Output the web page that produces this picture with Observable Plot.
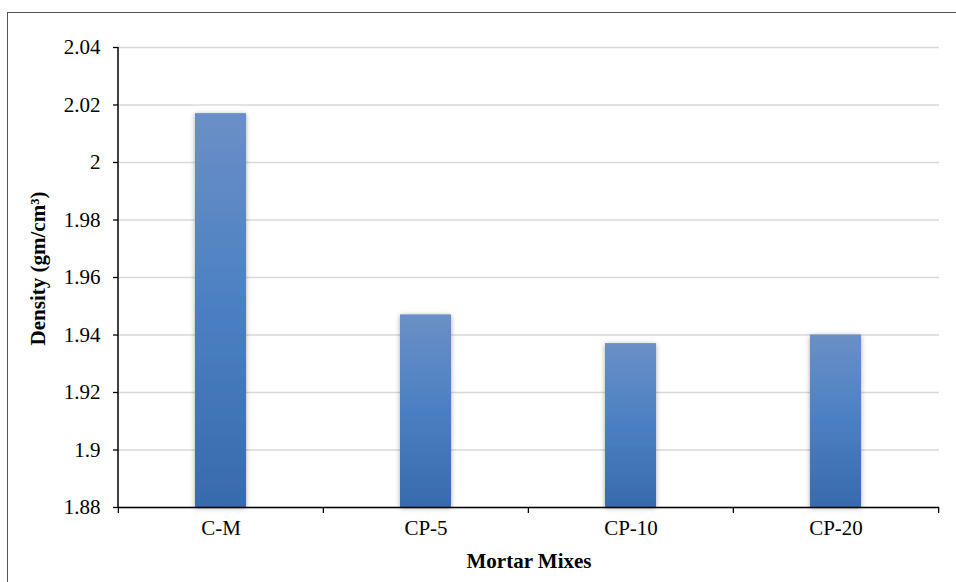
<!DOCTYPE html>
<html>
<head>
<meta charset="utf-8">
<script src="https://cdn.jsdelivr.net/npm/d3@7"></script>
<script src="https://cdn.jsdelivr.net/npm/@observablehq/plot@0.6"></script>
<style>
  html, body { margin: 0; padding: 0; background: #fff; overflow: hidden; }
  #wrap { position: relative; width: 956px; height: 582px; }
  #frame { position: absolute; left: 7px; top: 12px; width: 970px; height: 600px; border: 1.5px solid #555; box-sizing: border-box; pointer-events: none; }
  #chart { position: absolute; left: 0; top: 0; }
  #chart svg, #chart svg text { font-family: "Liberation Serif", "Times New Roman", serif !important; font-size: 21px !important; fill: #000; }
  #chart svg text.bold, #chart svg .bold text { font-weight: bold; }
</style>
</head>
<body>
<div id="wrap"><div id="chart"></div><div id="frame"></div></div>
<script>
const categories = ["C-M", "CP-5", "CP-10", "CP-20"];
const densities = [2.017, 1.947, 1.937, 1.940];
const yTicks = [1.88, 1.9, 1.92, 1.94, 1.96, 1.98, 2, 2.02, 2.04];
const yTickLabels = ["1.88", "1.9", "1.92", "1.94", "1.96", "1.98", "2", "2.02", "2.04"];

const data = categories.map((c, i) => ({category: c, density: densities[i]}));

const W = 956, H = 582, mL = 118, mR = 17, mT = 47, mB = 75;
const step = (W - mL - mR) / categories.length;

const chart = Plot.plot({
  width: W,
  height: H,
  marginLeft: mL,
  marginRight: mR,
  marginTop: mT,
  marginBottom: mB,
  style: {background: "transparent"},
  x: {domain: categories, paddingInner: 0.75, paddingOuter: 0.375, label: null},
  y: {domain: [1.88, 2.04], label: null},
  marks: [
    Plot.gridY(yTicks, {stroke: "#d9d9d9", strokeOpacity: 1, strokeWidth: 1.3}),
    Plot.barY(data, {x: "category", y1: 1.88, y2: "density", fill: "url(#barGrad)", className: "bars"}),
    Plot.axisY(yTicks, {tickSize: 5, tickPadding: 13, tickFormat: (d, i) => yTickLabels[i], stroke: "#000", strokeWidth: 1.3}),
    Plot.axisX({tickSize: 0, tickPadding: 13, label: null}),
    Plot.ruleY([1.88], {stroke: "#000", strokeWidth: 1.5}),
    Plot.tickX(categories, {x: d => d, dx: -step / 2, stroke: "#000", strokeWidth: 1.3, className: "xticks"}),
    Plot.tickX(categories.slice(-1), {x: d => d, dx: step / 2, stroke: "#000", strokeWidth: 1.3, className: "xticks"}),
    Plot.text(["Mortar Mixes"], {frameAnchor: "bottom", dy: 54, lineAnchor: "middle", textAnchor: "middle", className: "bold"}),
    Plot.text(["Density (gm/cm³)"], {frameAnchor: "left", dx: -80, dy: -9, rotate: -90, textAnchor: "middle", lineAnchor: "middle", className: "bold"})
  ]
});

const svg = d3.select(chart);
const defs = svg.insert("defs", ":first-child");
const g = defs.append("linearGradient").attr("id", "barGrad").attr("x1", 0).attr("y1", 0).attr("x2", 0).attr("y2", 1);
g.append("stop").attr("offset", "0%").attr("stop-color", "#6b8fc6");
g.append("stop").attr("offset", "50%").attr("stop-color", "#4a80c3");
g.append("stop").attr("offset", "100%").attr("stop-color", "#386aad");
const f = defs.append("filter").attr("id", "shadow").attr("x", "-30%").attr("y", "-10%").attr("width", "160%").attr("height", "120%");
f.append("feDropShadow").attr("dx", 0).attr("dy", 1).attr("stdDeviation", 2.5).attr("flood-color", "#000").attr("flood-opacity", 0.35);
svg.selectAll(".bars").attr("filter", "url(#shadow)");

svg.selectAll(".xticks line").each(function() {
  const y = H - mB;
  d3.select(this).attr("y1", y).attr("y2", y + 6);
});

svg.append("line").attr("x1", mL).attr("x2", mL).attr("y1", mT).attr("y2", H - mB).attr("stroke", "#000").attr("stroke-width", 1.5);

document.getElementById("chart").appendChild(chart);
</script>
</body>
</html>
